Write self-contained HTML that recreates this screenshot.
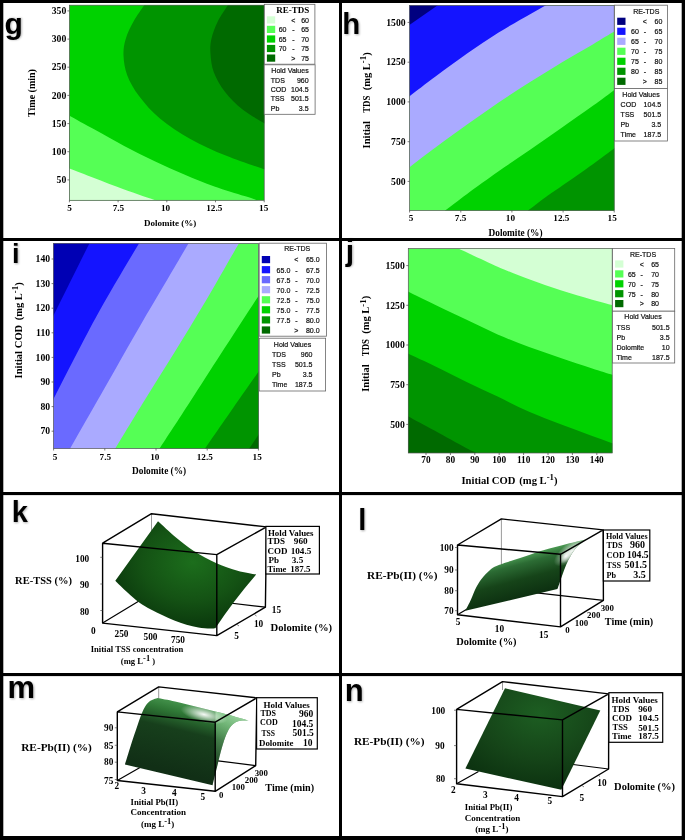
<!DOCTYPE html>
<html><head><meta charset="utf-8"><title>figure</title>
<style>
html,body{margin:0;padding:0;background:#fff;}
body{width:685px;height:840px;overflow:hidden;font-family:"Liberation Sans",sans-serif;}
svg{display:block;will-change:transform;}
</style></head><body>
<svg width="685" height="840" viewBox="0 0 685 840">
<defs>
<filter id="sh" x="-20%" y="-20%" width="150%" height="150%"><feGaussianBlur stdDeviation="0.9"/></filter>

<clipPath id="cg"><rect x="69.4" y="5.2" width="194.8" height="195.1"/></clipPath>
<clipPath id="ch"><rect x="409.6" y="5.4" width="204.6" height="205.1"/></clipPath>
<clipPath id="ci"><rect x="53.6" y="243.4" width="204.8" height="205.1"/></clipPath>
<clipPath id="cj"><rect x="408.3" y="248.6" width="203.9" height="204.4"/></clipPath>
<radialGradient id="gk" cx="0.55" cy="0.38" r="0.6"><stop offset="0" stop-color="#1c6e1c"/><stop offset="0.6" stop-color="#145214"/><stop offset="1" stop-color="#0b3a0d"/></radialGradient>
<linearGradient id="gl" gradientUnits="userSpaceOnUse" x1="522" y1="555" x2="534" y2="600"><stop offset="0" stop-color="#4c9c54"/><stop offset="0.18" stop-color="#2c6c34"/><stop offset="0.5" stop-color="#164419"/><stop offset="1" stop-color="#0a2a0e"/></linearGradient>
<linearGradient id="gl2" x1="0" y1="1" x2="1" y2="0"><stop offset="0" stop-color="#1a4d20"/><stop offset="0.6" stop-color="#6fbf78"/><stop offset="1" stop-color="#d8f5da"/></linearGradient>
<linearGradient id="gm" gradientUnits="userSpaceOnUse" x1="200" y1="704" x2="183" y2="774"><stop offset="0" stop-color="#4a9a52"/><stop offset="0.18" stop-color="#2f7836"/><stop offset="0.42" stop-color="#173f1c"/><stop offset="1" stop-color="#112f16"/></linearGradient>
<radialGradient id="gmh" cx="0.5" cy="0.5" r="0.5"><stop offset="0" stop-color="#ffffff" stop-opacity="0.95"/><stop offset="1" stop-color="#ffffff" stop-opacity="0"/></radialGradient>
<linearGradient id="gmr" gradientUnits="userSpaceOnUse" x1="214" y1="772" x2="244" y2="716"><stop offset="0" stop-color="#7fcf86" stop-opacity="0"/><stop offset="0.5" stop-color="#7fcf86" stop-opacity="0.45"/><stop offset="1" stop-color="#b4e6b8" stop-opacity="0.8"/></linearGradient>
<radialGradient id="gn" cx="0.55" cy="0.25" r="0.75"><stop offset="0" stop-color="#1d5e22"/><stop offset="0.6" stop-color="#154418"/><stop offset="1" stop-color="#0c3210"/></radialGradient>
</defs>
<rect width="685" height="840" fill="#fff"/>

<rect x="69.4" y="5.2" width="194.8" height="195.1" fill="#00d200"/>
<path d="M145.8,3.0 C143.8,6.0 137.1,15.0 133.8,21.1 C130.4,27.1 127.4,33.3 125.7,39.1 C123.9,44.9 123.3,49.6 123.5,55.6 C123.8,61.7 124.6,68.4 127.2,75.2 C129.8,82.0 133.7,89.0 139.2,96.2 C144.7,103.5 151.7,111.7 160.2,118.8 C168.8,125.9 179.3,132.8 190.3,138.9 C201.3,145.1 213.4,150.5 226.4,155.8 C239.4,161.1 261.5,168.3 268.5,170.8 L269.2,0.2 Z" fill="#009400" clip-path="url(#cg)"/>
<path d="M229.4,3.0 C227.5,6.0 221.0,15.0 218.0,21.1 C215.0,27.1 212.6,33.6 211.4,39.1 C210.1,44.6 210.1,48.6 210.5,54.1 C210.9,59.6 211.4,65.9 213.8,72.2 C216.2,78.4 220.0,85.5 224.9,91.7 C229.8,98.0 235.7,104.1 242.9,109.8 C250.2,115.4 264.3,123.1 268.5,125.7 L269.2,0.2 Z" fill="#006a00" clip-path="url(#cg)"/>
<path d="M67.0,114.3 C71.5,116.8 84.6,124.1 94.1,129.3 C103.6,134.6 114.1,140.6 124.2,145.9 C134.2,151.1 144.2,156.1 154.2,160.9 C164.3,165.7 174.3,170.2 184.3,174.4 C194.3,178.7 204.4,182.9 214.4,186.5 C224.4,190.1 236.9,193.7 244.5,196.1 C252.0,198.5 257.0,200.1 259.5,200.9 L64.4,205.3 Z" fill="#55ff55" clip-path="url(#cg)"/>
<path d="M67.0,167.5 C71.5,169.3 84.6,174.4 94.1,178.0 C103.6,181.7 113.6,185.7 124.2,189.5 C134.7,193.3 151.7,199.0 157.2,200.9 L64.4,205.3 Z" fill="#d4ffd4" clip-path="url(#cg)"/>
<rect x="409.6" y="5.4" width="204.6" height="205.1" fill="#55ff55"/>
<path d="M407.2,169.0 C411.9,165.5 425.5,155.0 435.5,147.6 C445.5,140.2 456.6,132.1 467.1,124.6 C477.6,117.1 488.1,109.6 498.6,102.5 C509.1,95.4 519.6,88.7 530.1,82.0 C540.7,75.3 551.2,68.7 561.7,62.4 C572.2,56.1 584.0,49.6 593.2,44.2 C602.4,38.7 612.9,32.3 616.9,30.0 L619.2,0.4 L404.6,0.4 Z" fill="#aaaaff" clip-path="url(#ch)"/>
<path d="M407.2,98.1 C411.9,94.5 425.5,84.0 435.5,76.6 C445.5,69.2 456.6,61.0 467.1,53.6 C477.6,46.3 488.1,39.1 498.6,32.5 C509.1,25.9 521.7,19.0 530.1,14.2 C538.6,9.4 545.9,5.3 549.1,3.5 L404.6,0.4 Z" fill="#1414ff" clip-path="url(#ch)"/>
<path d="M407.2,26.5 L440.3,3.5L404.6,0.4 Z" fill="#000080" clip-path="url(#ch)"/>
<path d="M443.4,211.9 C447.4,208.9 457.9,200.7 467.1,193.9 C476.3,187.2 488.1,178.6 498.6,171.2 C509.1,163.9 519.6,157.0 530.1,149.8 C540.7,142.5 551.2,135.1 561.7,127.7 C572.2,120.4 584.0,112.3 593.2,105.6 C602.4,99.0 612.9,90.9 616.9,88.0 L619.2,215.5 Z" fill="#00d200" clip-path="url(#ch)"/>
<path d="M526.4,211.9 C529.6,209.5 540.0,201.4 545.9,197.1 C551.8,192.8 553.8,191.6 561.7,186.1 C569.6,180.5 584.0,170.6 593.2,164.0 C602.4,157.4 612.9,149.3 616.9,146.3 L619.2,215.5 Z" fill="#009400" clip-path="url(#ch)"/>
<rect x="53.6" y="243.4" width="204.8" height="205.1" fill="#aaaaff"/>
<path d="M69.4,449.9 C76.4,437.7 98.9,398.1 111.1,376.8 C123.3,355.4 132.1,339.7 142.6,321.6 C153.1,303.4 166.3,281.3 174.1,268.0 C182.0,254.6 187.0,245.9 189.6,241.5 L48.6,238.4 L48.6,453.5 Z" fill="#6a6aff" clip-path="url(#ci)"/>
<path d="M51.2,403.6 C58.5,389.4 80.5,345.4 95.3,318.4 C110.1,291.4 132.6,254.3 140.1,241.5 L48.6,238.4 Z" fill="#1414ff" clip-path="url(#ci)"/>
<path d="M51.2,320.0 L90.3,241.5L48.6,238.4 Z" fill="#0000b4" clip-path="url(#ci)"/>
<path d="M114.5,449.9 C119.2,442.2 132.7,419.7 142.6,403.6 C152.5,387.4 163.6,370.2 174.1,353.1 C184.7,336.0 195.6,318.0 205.7,301.1 C215.7,284.1 228.6,261.2 234.4,251.2 C240.1,241.3 239.1,243.1 240.1,241.5 L263.4,238.4 L263.4,453.5 Z" fill="#55ff55" clip-path="url(#ci)"/>
<path d="M158.7,449.9 C163.9,441.9 179.5,418.1 189.9,402.0 C200.4,385.9 209.6,371.4 221.4,353.1 C233.3,334.8 254.3,302.4 260.9,292.2 L263.4,453.5 Z" fill="#00d200" clip-path="url(#ci)"/>
<path d="M204.1,449.9 C209.6,441.9 227.8,415.6 237.2,402.0 C246.7,388.4 256.9,373.9 260.9,368.2 L263.4,453.5 Z" fill="#009400" clip-path="url(#ci)"/>
<path d="M248.3,449.9 L260.9,431.3L263.4,453.5 Z" fill="#006a00" clip-path="url(#ci)"/>
<rect x="408.3" y="248.6" width="203.9" height="204.4" fill="#55ff55"/>
<path d="M453.5,246.2 C460.8,249.6 485.0,261.1 497.6,266.7 C510.2,272.2 518.6,275.3 529.1,279.3 C539.7,283.2 550.2,286.9 560.7,290.3 C571.2,293.7 583.0,297.1 592.2,299.8 C601.4,302.4 611.9,305.0 615.9,306.1 L617.2,243.6 Z" fill="#d4ffd4" clip-path="url(#cj)"/>
<path d="M406.2,290.6 C410.9,292.9 424.5,299.7 434.5,304.5 C444.5,309.3 455.6,314.6 466.1,319.6 C476.6,324.6 487.1,329.9 497.6,334.5 C508.1,339.0 518.6,343.1 529.1,347.1 C539.7,351.0 550.2,354.5 560.7,358.1 C571.2,361.7 583.0,365.6 592.2,368.5 C601.4,371.5 611.9,374.6 615.9,375.8 L617.2,458.0 L403.3,458.0 Z" fill="#00d200" clip-path="url(#cj)"/>
<path d="M406.2,352.7 C410.9,355.0 424.5,361.2 434.5,366.0 C444.5,370.8 455.6,376.7 466.1,381.8 C476.6,386.9 487.1,391.6 497.6,396.6 C508.1,401.6 518.6,407.1 529.1,411.7 C539.7,416.3 550.2,420.3 560.7,424.3 C571.2,428.4 583.0,432.6 592.2,436.0 C601.4,439.4 611.9,443.1 615.9,444.5 L617.2,458.0 L403.3,458.0 Z" fill="#009400" clip-path="url(#cj)"/>
<path d="M406.2,415.2 C410.9,417.8 424.5,425.2 434.5,430.6 C444.5,436.1 458.7,444.1 466.1,448.0 C473.4,451.8 476.6,452.7 478.7,453.7 L403.3,458.0 Z" fill="#006a00" clip-path="url(#cj)"/>
<rect x="69.4" y="5.2" width="194.8" height="195.1" fill="none" stroke="#555" stroke-width="0.7"/>
<rect x="409.6" y="5.4" width="204.6" height="205.1" fill="none" stroke="#555" stroke-width="0.7"/>
<rect x="53.6" y="243.4" width="204.8" height="205.1" fill="none" stroke="#555" stroke-width="0.7"/>
<rect x="408.3" y="248.6" width="203.9" height="204.4" fill="none" stroke="#555" stroke-width="0.7"/>
<line x1="67.4" y1="10.9" x2="69.4" y2="10.9" stroke="#444" stroke-width="0.7"/>
<text x="66.3" y="14.101" font-size="9.7" text-anchor="end" font-family="Liberation Serif, serif" font-weight="bold" >350</text>
<line x1="67.4" y1="39.1" x2="69.4" y2="39.1" stroke="#444" stroke-width="0.7"/>
<text x="66.3" y="42.301" font-size="9.7" text-anchor="end" font-family="Liberation Serif, serif" font-weight="bold" >300</text>
<line x1="67.4" y1="67.2" x2="69.4" y2="67.2" stroke="#444" stroke-width="0.7"/>
<text x="66.3" y="70.401" font-size="9.7" text-anchor="end" font-family="Liberation Serif, serif" font-weight="bold" >250</text>
<line x1="67.4" y1="95.4" x2="69.4" y2="95.4" stroke="#444" stroke-width="0.7"/>
<text x="66.3" y="98.601" font-size="9.7" text-anchor="end" font-family="Liberation Serif, serif" font-weight="bold" >200</text>
<line x1="67.4" y1="123.6" x2="69.4" y2="123.6" stroke="#444" stroke-width="0.7"/>
<text x="66.3" y="126.80099999999999" font-size="9.7" text-anchor="end" font-family="Liberation Serif, serif" font-weight="bold" >150</text>
<line x1="67.4" y1="151.7" x2="69.4" y2="151.7" stroke="#444" stroke-width="0.7"/>
<text x="66.3" y="154.90099999999998" font-size="9.7" text-anchor="end" font-family="Liberation Serif, serif" font-weight="bold" >100</text>
<line x1="67.4" y1="179.9" x2="69.4" y2="179.9" stroke="#444" stroke-width="0.7"/>
<text x="66.3" y="183.101" font-size="9.7" text-anchor="end" font-family="Liberation Serif, serif" font-weight="bold" >50</text>
<line x1="69.4" y1="200.3" x2="69.4" y2="202.3" stroke="#444" stroke-width="0.7"/>
<text x="69.5" y="211.20000000000002" font-size="9.2" text-anchor="middle" font-family="Liberation Serif, serif" font-weight="bold" >5</text>
<line x1="118.1" y1="200.3" x2="118.1" y2="202.3" stroke="#444" stroke-width="0.7"/>
<text x="118.4" y="211.20000000000002" font-size="9.2" text-anchor="middle" font-family="Liberation Serif, serif" font-weight="bold" >7.5</text>
<line x1="166.8" y1="200.3" x2="166.8" y2="202.3" stroke="#444" stroke-width="0.7"/>
<text x="165.6" y="211.20000000000002" font-size="9.2" text-anchor="middle" font-family="Liberation Serif, serif" font-weight="bold" >10</text>
<line x1="215.5" y1="200.3" x2="215.5" y2="202.3" stroke="#444" stroke-width="0.7"/>
<text x="214.3" y="211.20000000000002" font-size="9.2" text-anchor="middle" font-family="Liberation Serif, serif" font-weight="bold" >12.5</text>
<line x1="264.2" y1="200.3" x2="264.2" y2="202.3" stroke="#444" stroke-width="0.7"/>
<text x="263.7" y="211.20000000000002" font-size="9.2" text-anchor="middle" font-family="Liberation Serif, serif" font-weight="bold" >15</text>
<text x="170.1" y="225.5" font-size="9.0" text-anchor="middle" font-family="Liberation Serif, serif" font-weight="bold" >Dolomite (%)</text>
<text transform="translate(35,93) rotate(-90)" font-size="10" text-anchor="middle" font-family="Liberation Serif, serif" font-weight="bold">Time (min)</text>
<line x1="407.6" y1="22.4" x2="409.6" y2="22.4" stroke="#444" stroke-width="0.7"/>
<text x="405.6" y="25.601" font-size="9.7" text-anchor="end" font-family="Liberation Serif, serif" font-weight="bold" >1500</text>
<line x1="407.6" y1="62.2" x2="409.6" y2="62.2" stroke="#444" stroke-width="0.7"/>
<text x="405.6" y="65.401" font-size="9.7" text-anchor="end" font-family="Liberation Serif, serif" font-weight="bold" >1250</text>
<line x1="407.6" y1="101.9" x2="409.6" y2="101.9" stroke="#444" stroke-width="0.7"/>
<text x="405.6" y="105.101" font-size="9.7" text-anchor="end" font-family="Liberation Serif, serif" font-weight="bold" >1000</text>
<line x1="407.6" y1="141.7" x2="409.6" y2="141.7" stroke="#444" stroke-width="0.7"/>
<text x="405.6" y="144.90099999999998" font-size="9.7" text-anchor="end" font-family="Liberation Serif, serif" font-weight="bold" >750</text>
<line x1="407.6" y1="181.4" x2="409.6" y2="181.4" stroke="#444" stroke-width="0.7"/>
<text x="405.6" y="184.601" font-size="9.7" text-anchor="end" font-family="Liberation Serif, serif" font-weight="bold" >500</text>
<line x1="409.6" y1="210.5" x2="409.6" y2="212.5" stroke="#444" stroke-width="0.7"/>
<text x="411" y="221.2" font-size="9.2" text-anchor="middle" font-family="Liberation Serif, serif" font-weight="bold" >5</text>
<line x1="460.8" y1="210.5" x2="460.8" y2="212.5" stroke="#444" stroke-width="0.7"/>
<text x="460.6" y="221.2" font-size="9.2" text-anchor="middle" font-family="Liberation Serif, serif" font-weight="bold" >7.5</text>
<line x1="511.9" y1="210.5" x2="511.9" y2="212.5" stroke="#444" stroke-width="0.7"/>
<text x="510.4" y="221.2" font-size="9.2" text-anchor="middle" font-family="Liberation Serif, serif" font-weight="bold" >10</text>
<line x1="563.1" y1="210.5" x2="563.1" y2="212.5" stroke="#444" stroke-width="0.7"/>
<text x="561.4" y="221.2" font-size="9.2" text-anchor="middle" font-family="Liberation Serif, serif" font-weight="bold" >12.5</text>
<line x1="614.2" y1="210.5" x2="614.2" y2="212.5" stroke="#444" stroke-width="0.7"/>
<text x="612.2" y="221.2" font-size="9.2" text-anchor="middle" font-family="Liberation Serif, serif" font-weight="bold" >15</text>
<text x="515.5" y="235.8" font-size="9.3" text-anchor="middle" font-family="Liberation Serif, serif" font-weight="bold" >Dolomite (%)</text>
<text transform="translate(369.8,148.4) rotate(-90)" font-size="10.5" text-anchor="start" font-family="Liberation Serif, serif" font-weight="bold">Initial</text>
<text transform="translate(369.8,112.8) rotate(-90)" font-size="10.5" text-anchor="start" textLength="17.2" lengthAdjust="spacingAndGlyphs" font-family="Liberation Serif, serif" font-weight="bold">TDS</text>
<text transform="translate(369.8,90.3) rotate(-90)" font-size="10.5" text-anchor="start" font-family="Liberation Serif, serif" font-weight="bold">(mg L<tspan dy="-3.8" font-size="8.8">-1</tspan><tspan dy="3.8">)</tspan></text>
<line x1="51.6" y1="259.0" x2="53.6" y2="259.0" stroke="#444" stroke-width="0.7"/>
<text x="50.1" y="262.201" font-size="9.7" text-anchor="end" font-family="Liberation Serif, serif" font-weight="bold" >140</text>
<line x1="51.6" y1="283.6" x2="53.6" y2="283.6" stroke="#444" stroke-width="0.7"/>
<text x="50.1" y="286.80100000000004" font-size="9.7" text-anchor="end" font-family="Liberation Serif, serif" font-weight="bold" >130</text>
<line x1="51.6" y1="308.2" x2="53.6" y2="308.2" stroke="#444" stroke-width="0.7"/>
<text x="50.1" y="311.401" font-size="9.7" text-anchor="end" font-family="Liberation Serif, serif" font-weight="bold" >120</text>
<line x1="51.6" y1="332.8" x2="53.6" y2="332.8" stroke="#444" stroke-width="0.7"/>
<text x="50.1" y="336.00100000000003" font-size="9.7" text-anchor="end" font-family="Liberation Serif, serif" font-weight="bold" >110</text>
<line x1="51.6" y1="357.4" x2="53.6" y2="357.4" stroke="#444" stroke-width="0.7"/>
<text x="50.1" y="360.601" font-size="9.7" text-anchor="end" font-family="Liberation Serif, serif" font-weight="bold" >100</text>
<line x1="51.6" y1="382.0" x2="53.6" y2="382.0" stroke="#444" stroke-width="0.7"/>
<text x="50.1" y="385.201" font-size="9.7" text-anchor="end" font-family="Liberation Serif, serif" font-weight="bold" >90</text>
<line x1="51.6" y1="406.6" x2="53.6" y2="406.6" stroke="#444" stroke-width="0.7"/>
<text x="50.1" y="409.80100000000004" font-size="9.7" text-anchor="end" font-family="Liberation Serif, serif" font-weight="bold" >80</text>
<line x1="51.6" y1="431.2" x2="53.6" y2="431.2" stroke="#444" stroke-width="0.7"/>
<text x="50.1" y="434.401" font-size="9.7" text-anchor="end" font-family="Liberation Serif, serif" font-weight="bold" >70</text>
<line x1="53.6" y1="448.5" x2="53.6" y2="450.5" stroke="#444" stroke-width="0.7"/>
<text x="55" y="459.6" font-size="9.2" text-anchor="middle" font-family="Liberation Serif, serif" font-weight="bold" >5</text>
<line x1="104.8" y1="448.5" x2="104.8" y2="450.5" stroke="#444" stroke-width="0.7"/>
<text x="105.3" y="459.6" font-size="9.2" text-anchor="middle" font-family="Liberation Serif, serif" font-weight="bold" >7.5</text>
<line x1="156.0" y1="448.5" x2="156.0" y2="450.5" stroke="#444" stroke-width="0.7"/>
<text x="154.8" y="459.6" font-size="9.2" text-anchor="middle" font-family="Liberation Serif, serif" font-weight="bold" >10</text>
<line x1="207.2" y1="448.5" x2="207.2" y2="450.5" stroke="#444" stroke-width="0.7"/>
<text x="204.8" y="459.6" font-size="9.2" text-anchor="middle" font-family="Liberation Serif, serif" font-weight="bold" >12.5</text>
<line x1="258.4" y1="448.5" x2="258.4" y2="450.5" stroke="#444" stroke-width="0.7"/>
<text x="257.2" y="459.6" font-size="9.2" text-anchor="middle" font-family="Liberation Serif, serif" font-weight="bold" >15</text>
<text x="159.1" y="474.4" font-size="9.3" text-anchor="middle" font-family="Liberation Serif, serif" font-weight="bold" >Dolomite (%)</text>
<text transform="translate(22,378.4) rotate(-90)" font-size="10.5" text-anchor="start" font-family="Liberation Serif, serif" font-weight="bold">Initial</text>
<text transform="translate(22,348.2) rotate(-90)" font-size="10.5" text-anchor="start" font-family="Liberation Serif, serif" font-weight="bold">COD</text>
<text transform="translate(22,320.3) rotate(-90)" font-size="10.5" text-anchor="start" font-family="Liberation Serif, serif" font-weight="bold">(mg L<tspan dy="-3.8" font-size="8.8">-1</tspan><tspan dy="3.8">)</tspan></text>
<line x1="406.3" y1="265.6" x2="408.3" y2="265.6" stroke="#444" stroke-width="0.7"/>
<text x="404.8" y="268.80100000000004" font-size="9.7" text-anchor="end" font-family="Liberation Serif, serif" font-weight="bold" >1500</text>
<line x1="406.3" y1="305.3" x2="408.3" y2="305.3" stroke="#444" stroke-width="0.7"/>
<text x="404.8" y="308.50100000000003" font-size="9.7" text-anchor="end" font-family="Liberation Serif, serif" font-weight="bold" >1250</text>
<line x1="406.3" y1="345.0" x2="408.3" y2="345.0" stroke="#444" stroke-width="0.7"/>
<text x="404.8" y="348.201" font-size="9.7" text-anchor="end" font-family="Liberation Serif, serif" font-weight="bold" >1000</text>
<line x1="406.3" y1="384.7" x2="408.3" y2="384.7" stroke="#444" stroke-width="0.7"/>
<text x="404.8" y="387.901" font-size="9.7" text-anchor="end" font-family="Liberation Serif, serif" font-weight="bold" >750</text>
<line x1="406.3" y1="424.4" x2="408.3" y2="424.4" stroke="#444" stroke-width="0.7"/>
<text x="404.8" y="427.601" font-size="9.7" text-anchor="end" font-family="Liberation Serif, serif" font-weight="bold" >500</text>
<line x1="426.0" y1="453.0" x2="426.0" y2="455.0" stroke="#444" stroke-width="0.7"/>
<text x="426.0" y="463.0" font-size="9.3" text-anchor="middle" font-family="Liberation Serif, serif" font-weight="bold" >70</text>
<line x1="450.4" y1="453.0" x2="450.4" y2="455.0" stroke="#444" stroke-width="0.7"/>
<text x="450.4" y="463.0" font-size="9.3" text-anchor="middle" font-family="Liberation Serif, serif" font-weight="bold" >80</text>
<line x1="474.8" y1="453.0" x2="474.8" y2="455.0" stroke="#444" stroke-width="0.7"/>
<text x="474.8" y="463.0" font-size="9.3" text-anchor="middle" font-family="Liberation Serif, serif" font-weight="bold" >90</text>
<line x1="499.2" y1="453.0" x2="499.2" y2="455.0" stroke="#444" stroke-width="0.7"/>
<text x="499.2" y="463.0" font-size="9.3" text-anchor="middle" font-family="Liberation Serif, serif" font-weight="bold" >100</text>
<line x1="523.6" y1="453.0" x2="523.6" y2="455.0" stroke="#444" stroke-width="0.7"/>
<text x="523.6" y="463.0" font-size="9.3" text-anchor="middle" font-family="Liberation Serif, serif" font-weight="bold" >110</text>
<line x1="548.0" y1="453.0" x2="548.0" y2="455.0" stroke="#444" stroke-width="0.7"/>
<text x="548.0" y="463.0" font-size="9.3" text-anchor="middle" font-family="Liberation Serif, serif" font-weight="bold" >120</text>
<line x1="572.4" y1="453.0" x2="572.4" y2="455.0" stroke="#444" stroke-width="0.7"/>
<text x="572.4" y="463.0" font-size="9.3" text-anchor="middle" font-family="Liberation Serif, serif" font-weight="bold" >130</text>
<line x1="596.8" y1="453.0" x2="596.8" y2="455.0" stroke="#444" stroke-width="0.7"/>
<text x="596.8" y="463.0" font-size="9.3" text-anchor="middle" font-family="Liberation Serif, serif" font-weight="bold" >140</text>
<text x="461.5" y="483.5" font-size="10.6" text-anchor="start" font-family="Liberation Serif, serif" font-weight="bold">Initial COD</text>
<text x="519.3" y="483.5" font-size="10.6" text-anchor="start" font-family="Liberation Serif, serif" font-weight="bold">(mg L<tspan dy="-3.8" font-size="8.8">-1</tspan><tspan dy="3.8">)</tspan></text>
<text transform="translate(369.3,391.8) rotate(-90)" font-size="10.5" text-anchor="start" font-family="Liberation Serif, serif" font-weight="bold">Initial</text>
<text transform="translate(369.3,356.2) rotate(-90)" font-size="10.5" text-anchor="start" textLength="17.2" lengthAdjust="spacingAndGlyphs" font-family="Liberation Serif, serif" font-weight="bold">TDS</text>
<text transform="translate(369.3,333.8) rotate(-90)" font-size="10.5" text-anchor="start" font-family="Liberation Serif, serif" font-weight="bold">(mg L<tspan dy="-3.8" font-size="8.8">-1</tspan><tspan dy="3.8">)</tspan></text>
<rect x="264.3" y="4.3" width="50.6" height="59.9" fill="#fff" stroke="#666" stroke-width="0.8"/>
<text x="292.8" y="13.100000000000001" font-size="9" text-anchor="middle" font-family="Liberation Serif, serif" font-weight="bold" >RE-TDS</text>
<rect x="266.90000000000003" y="16.3" width="8.3" height="7.2" fill="#d4ffd4"/>
<text transform="translate(293.3,22.779999999999998) scale(0.88,1)" font-size="8" text-anchor="middle" font-family="Liberation Sans, sans-serif" fill="#111" stroke="#111" stroke-width="0.22" >&lt;</text>
<text transform="translate(309,22.779999999999998) scale(0.88,1)" font-size="8" text-anchor="end" font-family="Liberation Sans, sans-serif" fill="#111" stroke="#111" stroke-width="0.22" >60</text>
<rect x="266.90000000000003" y="25.8" width="8.3" height="7.2" fill="#55ff55"/>
<text transform="translate(286.5,32.33) scale(0.88,1)" font-size="8" text-anchor="end" font-family="Liberation Sans, sans-serif" fill="#111" stroke="#111" stroke-width="0.22" >60</text>
<text transform="translate(293.3,32.33) scale(0.88,1)" font-size="8" text-anchor="middle" font-family="Liberation Sans, sans-serif" fill="#111" stroke="#111" stroke-width="0.22" >-</text>
<text transform="translate(309,32.33) scale(0.88,1)" font-size="8" text-anchor="end" font-family="Liberation Sans, sans-serif" fill="#111" stroke="#111" stroke-width="0.22" >65</text>
<rect x="266.90000000000003" y="35.4" width="8.3" height="7.2" fill="#00d200"/>
<text transform="translate(286.5,41.88) scale(0.88,1)" font-size="8" text-anchor="end" font-family="Liberation Sans, sans-serif" fill="#111" stroke="#111" stroke-width="0.22" >65</text>
<text transform="translate(293.3,41.88) scale(0.88,1)" font-size="8" text-anchor="middle" font-family="Liberation Sans, sans-serif" fill="#111" stroke="#111" stroke-width="0.22" >-</text>
<text transform="translate(309,41.88) scale(0.88,1)" font-size="8" text-anchor="end" font-family="Liberation Sans, sans-serif" fill="#111" stroke="#111" stroke-width="0.22" >70</text>
<rect x="266.90000000000003" y="44.9" width="8.3" height="7.2" fill="#009400"/>
<text transform="translate(286.5,51.43) scale(0.88,1)" font-size="8" text-anchor="end" font-family="Liberation Sans, sans-serif" fill="#111" stroke="#111" stroke-width="0.22" >70</text>
<text transform="translate(293.3,51.43) scale(0.88,1)" font-size="8" text-anchor="middle" font-family="Liberation Sans, sans-serif" fill="#111" stroke="#111" stroke-width="0.22" >-</text>
<text transform="translate(309,51.43) scale(0.88,1)" font-size="8" text-anchor="end" font-family="Liberation Sans, sans-serif" fill="#111" stroke="#111" stroke-width="0.22" >75</text>
<rect x="266.90000000000003" y="54.5" width="8.3" height="7.2" fill="#006a00"/>
<text transform="translate(293.3,60.980000000000004) scale(0.88,1)" font-size="8" text-anchor="middle" font-family="Liberation Sans, sans-serif" fill="#111" stroke="#111" stroke-width="0.22" >&gt;</text>
<text transform="translate(309,60.980000000000004) scale(0.88,1)" font-size="8" text-anchor="end" font-family="Liberation Sans, sans-serif" fill="#111" stroke="#111" stroke-width="0.22" >75</text>
<rect x="264.2" y="64.8" width="50.9" height="49.5" fill="#fff" stroke="#666" stroke-width="0.8"/>
<text transform="translate(290,72.8) scale(0.88,1)" font-size="8" text-anchor="middle" font-family="Liberation Sans, sans-serif" fill="#111" stroke="#111" stroke-width="0.22" >Hold Values</text>
<text transform="translate(270.8,82.5) scale(0.88,1)" font-size="8" text-anchor="start" font-family="Liberation Sans, sans-serif" fill="#111" stroke="#111" stroke-width="0.22" >TDS</text>
<text transform="translate(308.6,82.5) scale(0.88,1)" font-size="8" text-anchor="end" font-family="Liberation Sans, sans-serif" fill="#111" stroke="#111" stroke-width="0.22" >960</text>
<text transform="translate(270.8,91.9) scale(0.88,1)" font-size="8" text-anchor="start" font-family="Liberation Sans, sans-serif" fill="#111" stroke="#111" stroke-width="0.22" >COD</text>
<text transform="translate(308.6,91.9) scale(0.88,1)" font-size="8" text-anchor="end" font-family="Liberation Sans, sans-serif" fill="#111" stroke="#111" stroke-width="0.22" >104.5</text>
<text transform="translate(270.8,101.3) scale(0.88,1)" font-size="8" text-anchor="start" font-family="Liberation Sans, sans-serif" fill="#111" stroke="#111" stroke-width="0.22" >TSS</text>
<text transform="translate(308.6,101.3) scale(0.88,1)" font-size="8" text-anchor="end" font-family="Liberation Sans, sans-serif" fill="#111" stroke="#111" stroke-width="0.22" >501.5</text>
<text transform="translate(270.8,110.7) scale(0.88,1)" font-size="8" text-anchor="start" font-family="Liberation Sans, sans-serif" fill="#111" stroke="#111" stroke-width="0.22" >Pb</text>
<text transform="translate(308.6,110.7) scale(0.88,1)" font-size="8" text-anchor="end" font-family="Liberation Sans, sans-serif" fill="#111" stroke="#111" stroke-width="0.22" >3.5</text>
<rect x="614.6" y="5.2" width="52.8" height="83.2" fill="#fff" stroke="#666" stroke-width="0.8"/>
<text transform="translate(646.3,13.600000000000001) scale(0.88,1)" font-size="8" text-anchor="middle" font-family="Liberation Sans, sans-serif" fill="#111" stroke="#111" stroke-width="0.22" >RE-TDS</text>
<rect x="617.2" y="17.7" width="8.3" height="7.2" fill="#000080"/>
<text transform="translate(644.8,24.18) scale(0.88,1)" font-size="8" text-anchor="middle" font-family="Liberation Sans, sans-serif" fill="#111" stroke="#111" stroke-width="0.22" >&lt;</text>
<text transform="translate(662.3,24.18) scale(0.88,1)" font-size="8" text-anchor="end" font-family="Liberation Sans, sans-serif" fill="#111" stroke="#111" stroke-width="0.22" >60</text>
<rect x="617.2" y="27.7" width="8.3" height="7.2" fill="#1414ff"/>
<text transform="translate(638.8,34.18) scale(0.88,1)" font-size="8" text-anchor="end" font-family="Liberation Sans, sans-serif" fill="#111" stroke="#111" stroke-width="0.22" >60</text>
<text transform="translate(644.8,34.18) scale(0.88,1)" font-size="8" text-anchor="middle" font-family="Liberation Sans, sans-serif" fill="#111" stroke="#111" stroke-width="0.22" >-</text>
<text transform="translate(662.3,34.18) scale(0.88,1)" font-size="8" text-anchor="end" font-family="Liberation Sans, sans-serif" fill="#111" stroke="#111" stroke-width="0.22" >65</text>
<rect x="617.2" y="37.7" width="8.3" height="7.2" fill="#aaaaff"/>
<text transform="translate(638.8,44.18) scale(0.88,1)" font-size="8" text-anchor="end" font-family="Liberation Sans, sans-serif" fill="#111" stroke="#111" stroke-width="0.22" >65</text>
<text transform="translate(644.8,44.18) scale(0.88,1)" font-size="8" text-anchor="middle" font-family="Liberation Sans, sans-serif" fill="#111" stroke="#111" stroke-width="0.22" >-</text>
<text transform="translate(662.3,44.18) scale(0.88,1)" font-size="8" text-anchor="end" font-family="Liberation Sans, sans-serif" fill="#111" stroke="#111" stroke-width="0.22" >70</text>
<rect x="617.2" y="47.7" width="8.3" height="7.2" fill="#55ff55"/>
<text transform="translate(638.8,54.18) scale(0.88,1)" font-size="8" text-anchor="end" font-family="Liberation Sans, sans-serif" fill="#111" stroke="#111" stroke-width="0.22" >70</text>
<text transform="translate(644.8,54.18) scale(0.88,1)" font-size="8" text-anchor="middle" font-family="Liberation Sans, sans-serif" fill="#111" stroke="#111" stroke-width="0.22" >-</text>
<text transform="translate(662.3,54.18) scale(0.88,1)" font-size="8" text-anchor="end" font-family="Liberation Sans, sans-serif" fill="#111" stroke="#111" stroke-width="0.22" >75</text>
<rect x="617.2" y="57.7" width="8.3" height="7.2" fill="#00d200"/>
<text transform="translate(638.8,64.17999999999999) scale(0.88,1)" font-size="8" text-anchor="end" font-family="Liberation Sans, sans-serif" fill="#111" stroke="#111" stroke-width="0.22" >75</text>
<text transform="translate(644.8,64.17999999999999) scale(0.88,1)" font-size="8" text-anchor="middle" font-family="Liberation Sans, sans-serif" fill="#111" stroke="#111" stroke-width="0.22" >-</text>
<text transform="translate(662.3,64.17999999999999) scale(0.88,1)" font-size="8" text-anchor="end" font-family="Liberation Sans, sans-serif" fill="#111" stroke="#111" stroke-width="0.22" >80</text>
<rect x="617.2" y="67.7" width="8.3" height="7.2" fill="#009400"/>
<text transform="translate(638.8,74.17999999999999) scale(0.88,1)" font-size="8" text-anchor="end" font-family="Liberation Sans, sans-serif" fill="#111" stroke="#111" stroke-width="0.22" >80</text>
<text transform="translate(644.8,74.17999999999999) scale(0.88,1)" font-size="8" text-anchor="middle" font-family="Liberation Sans, sans-serif" fill="#111" stroke="#111" stroke-width="0.22" >-</text>
<text transform="translate(662.3,74.17999999999999) scale(0.88,1)" font-size="8" text-anchor="end" font-family="Liberation Sans, sans-serif" fill="#111" stroke="#111" stroke-width="0.22" >85</text>
<rect x="617.2" y="77.7" width="8.3" height="7.2" fill="#006a00"/>
<text transform="translate(644.8,84.17999999999999) scale(0.88,1)" font-size="8" text-anchor="middle" font-family="Liberation Sans, sans-serif" fill="#111" stroke="#111" stroke-width="0.22" >&gt;</text>
<text transform="translate(662.3,84.17999999999999) scale(0.88,1)" font-size="8" text-anchor="end" font-family="Liberation Sans, sans-serif" fill="#111" stroke="#111" stroke-width="0.22" >85</text>
<rect x="614.6" y="88.4" width="52.8" height="52.6" fill="#fff" stroke="#666" stroke-width="0.8"/>
<text transform="translate(641,97.10000000000001) scale(0.88,1)" font-size="8" text-anchor="middle" font-family="Liberation Sans, sans-serif" fill="#111" stroke="#111" stroke-width="0.22" >Hold Values</text>
<text transform="translate(620.6,107.0) scale(0.88,1)" font-size="8" text-anchor="start" font-family="Liberation Sans, sans-serif" fill="#111" stroke="#111" stroke-width="0.22" >COD</text>
<text transform="translate(661.2,107.0) scale(0.88,1)" font-size="8" text-anchor="end" font-family="Liberation Sans, sans-serif" fill="#111" stroke="#111" stroke-width="0.22" >104.5</text>
<text transform="translate(620.6,116.9) scale(0.88,1)" font-size="8" text-anchor="start" font-family="Liberation Sans, sans-serif" fill="#111" stroke="#111" stroke-width="0.22" >TSS</text>
<text transform="translate(661.2,116.9) scale(0.88,1)" font-size="8" text-anchor="end" font-family="Liberation Sans, sans-serif" fill="#111" stroke="#111" stroke-width="0.22" >501.5</text>
<text transform="translate(620.6,126.8) scale(0.88,1)" font-size="8" text-anchor="start" font-family="Liberation Sans, sans-serif" fill="#111" stroke="#111" stroke-width="0.22" >Pb</text>
<text transform="translate(661.2,126.8) scale(0.88,1)" font-size="8" text-anchor="end" font-family="Liberation Sans, sans-serif" fill="#111" stroke="#111" stroke-width="0.22" >3.5</text>
<text transform="translate(620.6,136.7) scale(0.88,1)" font-size="8" text-anchor="start" font-family="Liberation Sans, sans-serif" fill="#111" stroke="#111" stroke-width="0.22" >Time</text>
<text transform="translate(661.2,136.7) scale(0.88,1)" font-size="8" text-anchor="end" font-family="Liberation Sans, sans-serif" fill="#111" stroke="#111" stroke-width="0.22" >187.5</text>
<rect x="259.2" y="243.2" width="67.2" height="93" fill="#fff" stroke="#666" stroke-width="0.8"/>
<text transform="translate(297.2,251.2) scale(0.88,1)" font-size="8" text-anchor="middle" font-family="Liberation Sans, sans-serif" fill="#111" stroke="#111" stroke-width="0.22" >RE-TDS</text>
<rect x="261.8" y="256.0" width="8.3" height="7.2" fill="#0000b4"/>
<text transform="translate(296.3,262.48) scale(0.88,1)" font-size="8" text-anchor="middle" font-family="Liberation Sans, sans-serif" fill="#111" stroke="#111" stroke-width="0.22" >&lt;</text>
<text transform="translate(319.6,262.48) scale(0.88,1)" font-size="8" text-anchor="end" font-family="Liberation Sans, sans-serif" fill="#111" stroke="#111" stroke-width="0.22" >65.0</text>
<rect x="261.8" y="266.1" width="8.3" height="7.2" fill="#1414ff"/>
<text transform="translate(290.3,272.53000000000003) scale(0.88,1)" font-size="8" text-anchor="end" font-family="Liberation Sans, sans-serif" fill="#111" stroke="#111" stroke-width="0.22" >65.0</text>
<text transform="translate(296.3,272.53000000000003) scale(0.88,1)" font-size="8" text-anchor="middle" font-family="Liberation Sans, sans-serif" fill="#111" stroke="#111" stroke-width="0.22" >-</text>
<text transform="translate(319.6,272.53000000000003) scale(0.88,1)" font-size="8" text-anchor="end" font-family="Liberation Sans, sans-serif" fill="#111" stroke="#111" stroke-width="0.22" >67.5</text>
<rect x="261.8" y="276.1" width="8.3" height="7.2" fill="#6a6aff"/>
<text transform="translate(290.3,282.58000000000004) scale(0.88,1)" font-size="8" text-anchor="end" font-family="Liberation Sans, sans-serif" fill="#111" stroke="#111" stroke-width="0.22" >67.5</text>
<text transform="translate(296.3,282.58000000000004) scale(0.88,1)" font-size="8" text-anchor="middle" font-family="Liberation Sans, sans-serif" fill="#111" stroke="#111" stroke-width="0.22" >-</text>
<text transform="translate(319.6,282.58000000000004) scale(0.88,1)" font-size="8" text-anchor="end" font-family="Liberation Sans, sans-serif" fill="#111" stroke="#111" stroke-width="0.22" >70.0</text>
<rect x="261.8" y="286.1" width="8.3" height="7.2" fill="#aaaaff"/>
<text transform="translate(290.3,292.63) scale(0.88,1)" font-size="8" text-anchor="end" font-family="Liberation Sans, sans-serif" fill="#111" stroke="#111" stroke-width="0.22" >70.0</text>
<text transform="translate(296.3,292.63) scale(0.88,1)" font-size="8" text-anchor="middle" font-family="Liberation Sans, sans-serif" fill="#111" stroke="#111" stroke-width="0.22" >-</text>
<text transform="translate(319.6,292.63) scale(0.88,1)" font-size="8" text-anchor="end" font-family="Liberation Sans, sans-serif" fill="#111" stroke="#111" stroke-width="0.22" >72.5</text>
<rect x="261.8" y="296.2" width="8.3" height="7.2" fill="#55ff55"/>
<text transform="translate(290.3,302.68) scale(0.88,1)" font-size="8" text-anchor="end" font-family="Liberation Sans, sans-serif" fill="#111" stroke="#111" stroke-width="0.22" >72.5</text>
<text transform="translate(296.3,302.68) scale(0.88,1)" font-size="8" text-anchor="middle" font-family="Liberation Sans, sans-serif" fill="#111" stroke="#111" stroke-width="0.22" >-</text>
<text transform="translate(319.6,302.68) scale(0.88,1)" font-size="8" text-anchor="end" font-family="Liberation Sans, sans-serif" fill="#111" stroke="#111" stroke-width="0.22" >75.0</text>
<rect x="261.8" y="306.2" width="8.3" height="7.2" fill="#00d200"/>
<text transform="translate(290.3,312.73) scale(0.88,1)" font-size="8" text-anchor="end" font-family="Liberation Sans, sans-serif" fill="#111" stroke="#111" stroke-width="0.22" >75.0</text>
<text transform="translate(296.3,312.73) scale(0.88,1)" font-size="8" text-anchor="middle" font-family="Liberation Sans, sans-serif" fill="#111" stroke="#111" stroke-width="0.22" >-</text>
<text transform="translate(319.6,312.73) scale(0.88,1)" font-size="8" text-anchor="end" font-family="Liberation Sans, sans-serif" fill="#111" stroke="#111" stroke-width="0.22" >77.5</text>
<rect x="261.8" y="316.3" width="8.3" height="7.2" fill="#009400"/>
<text transform="translate(290.3,322.78000000000003) scale(0.88,1)" font-size="8" text-anchor="end" font-family="Liberation Sans, sans-serif" fill="#111" stroke="#111" stroke-width="0.22" >77.5</text>
<text transform="translate(296.3,322.78000000000003) scale(0.88,1)" font-size="8" text-anchor="middle" font-family="Liberation Sans, sans-serif" fill="#111" stroke="#111" stroke-width="0.22" >-</text>
<text transform="translate(319.6,322.78000000000003) scale(0.88,1)" font-size="8" text-anchor="end" font-family="Liberation Sans, sans-serif" fill="#111" stroke="#111" stroke-width="0.22" >80.0</text>
<rect x="261.8" y="326.4" width="8.3" height="7.2" fill="#006a00"/>
<text transform="translate(296.3,332.83000000000004) scale(0.88,1)" font-size="8" text-anchor="middle" font-family="Liberation Sans, sans-serif" fill="#111" stroke="#111" stroke-width="0.22" >&gt;</text>
<text transform="translate(319.6,332.83000000000004) scale(0.88,1)" font-size="8" text-anchor="end" font-family="Liberation Sans, sans-serif" fill="#111" stroke="#111" stroke-width="0.22" >80.0</text>
<rect x="259.2" y="338.2" width="66.4" height="52.8" fill="#fff" stroke="#666" stroke-width="0.8"/>
<text transform="translate(292.5,347.2) scale(0.88,1)" font-size="8" text-anchor="middle" font-family="Liberation Sans, sans-serif" fill="#111" stroke="#111" stroke-width="0.22" >Hold Values</text>
<text transform="translate(272,357.4) scale(0.88,1)" font-size="8" text-anchor="start" font-family="Liberation Sans, sans-serif" fill="#111" stroke="#111" stroke-width="0.22" >TDS</text>
<text transform="translate(312.5,357.4) scale(0.88,1)" font-size="8" text-anchor="end" font-family="Liberation Sans, sans-serif" fill="#111" stroke="#111" stroke-width="0.22" >960</text>
<text transform="translate(272,367.34999999999997) scale(0.88,1)" font-size="8" text-anchor="start" font-family="Liberation Sans, sans-serif" fill="#111" stroke="#111" stroke-width="0.22" >TSS</text>
<text transform="translate(312.5,367.34999999999997) scale(0.88,1)" font-size="8" text-anchor="end" font-family="Liberation Sans, sans-serif" fill="#111" stroke="#111" stroke-width="0.22" >501.5</text>
<text transform="translate(272,377.29999999999995) scale(0.88,1)" font-size="8" text-anchor="start" font-family="Liberation Sans, sans-serif" fill="#111" stroke="#111" stroke-width="0.22" >Pb</text>
<text transform="translate(312.5,377.29999999999995) scale(0.88,1)" font-size="8" text-anchor="end" font-family="Liberation Sans, sans-serif" fill="#111" stroke="#111" stroke-width="0.22" >3.5</text>
<text transform="translate(272,387.25) scale(0.88,1)" font-size="8" text-anchor="start" font-family="Liberation Sans, sans-serif" fill="#111" stroke="#111" stroke-width="0.22" >Time</text>
<text transform="translate(312.5,387.25) scale(0.88,1)" font-size="8" text-anchor="end" font-family="Liberation Sans, sans-serif" fill="#111" stroke="#111" stroke-width="0.22" >187.5</text>
<rect x="612.5" y="248.5" width="62.2" height="62.7" fill="#fff" stroke="#666" stroke-width="0.8"/>
<text transform="translate(643,257.1) scale(0.88,1)" font-size="8" text-anchor="middle" font-family="Liberation Sans, sans-serif" fill="#111" stroke="#111" stroke-width="0.22" >RE-TDS</text>
<rect x="615.1" y="260.4" width="8.3" height="7.2" fill="#d4ffd4"/>
<text transform="translate(641.7,266.88) scale(0.88,1)" font-size="8" text-anchor="middle" font-family="Liberation Sans, sans-serif" fill="#111" stroke="#111" stroke-width="0.22" >&lt;</text>
<text transform="translate(659.0,266.88) scale(0.88,1)" font-size="8" text-anchor="end" font-family="Liberation Sans, sans-serif" fill="#111" stroke="#111" stroke-width="0.22" >65</text>
<rect x="615.1" y="270.3" width="8.3" height="7.2" fill="#55ff55"/>
<text transform="translate(635.7,276.78) scale(0.88,1)" font-size="8" text-anchor="end" font-family="Liberation Sans, sans-serif" fill="#111" stroke="#111" stroke-width="0.22" >65</text>
<text transform="translate(641.7,276.78) scale(0.88,1)" font-size="8" text-anchor="middle" font-family="Liberation Sans, sans-serif" fill="#111" stroke="#111" stroke-width="0.22" >-</text>
<text transform="translate(659.0,276.78) scale(0.88,1)" font-size="8" text-anchor="end" font-family="Liberation Sans, sans-serif" fill="#111" stroke="#111" stroke-width="0.22" >70</text>
<rect x="615.1" y="280.2" width="8.3" height="7.2" fill="#00d200"/>
<text transform="translate(635.7,286.68) scale(0.88,1)" font-size="8" text-anchor="end" font-family="Liberation Sans, sans-serif" fill="#111" stroke="#111" stroke-width="0.22" >70</text>
<text transform="translate(641.7,286.68) scale(0.88,1)" font-size="8" text-anchor="middle" font-family="Liberation Sans, sans-serif" fill="#111" stroke="#111" stroke-width="0.22" >-</text>
<text transform="translate(659.0,286.68) scale(0.88,1)" font-size="8" text-anchor="end" font-family="Liberation Sans, sans-serif" fill="#111" stroke="#111" stroke-width="0.22" >75</text>
<rect x="615.1" y="290.1" width="8.3" height="7.2" fill="#009400"/>
<text transform="translate(635.7,296.58) scale(0.88,1)" font-size="8" text-anchor="end" font-family="Liberation Sans, sans-serif" fill="#111" stroke="#111" stroke-width="0.22" >75</text>
<text transform="translate(641.7,296.58) scale(0.88,1)" font-size="8" text-anchor="middle" font-family="Liberation Sans, sans-serif" fill="#111" stroke="#111" stroke-width="0.22" >-</text>
<text transform="translate(659.0,296.58) scale(0.88,1)" font-size="8" text-anchor="end" font-family="Liberation Sans, sans-serif" fill="#111" stroke="#111" stroke-width="0.22" >80</text>
<rect x="615.1" y="300.0" width="8.3" height="7.2" fill="#006a00"/>
<text transform="translate(641.7,306.48) scale(0.88,1)" font-size="8" text-anchor="middle" font-family="Liberation Sans, sans-serif" fill="#111" stroke="#111" stroke-width="0.22" >&gt;</text>
<text transform="translate(659.0,306.48) scale(0.88,1)" font-size="8" text-anchor="end" font-family="Liberation Sans, sans-serif" fill="#111" stroke="#111" stroke-width="0.22" >80</text>
<rect x="612.5" y="311.2" width="62.2" height="51.8" fill="#fff" stroke="#666" stroke-width="0.8"/>
<text transform="translate(643,319.2) scale(0.88,1)" font-size="8" text-anchor="middle" font-family="Liberation Sans, sans-serif" fill="#111" stroke="#111" stroke-width="0.22" >Hold Values</text>
<text transform="translate(616.5,329.7) scale(0.88,1)" font-size="8" text-anchor="start" font-family="Liberation Sans, sans-serif" fill="#111" stroke="#111" stroke-width="0.22" >TSS</text>
<text transform="translate(669.6,329.7) scale(0.88,1)" font-size="8" text-anchor="end" font-family="Liberation Sans, sans-serif" fill="#111" stroke="#111" stroke-width="0.22" >501.5</text>
<text transform="translate(616.5,339.65) scale(0.88,1)" font-size="8" text-anchor="start" font-family="Liberation Sans, sans-serif" fill="#111" stroke="#111" stroke-width="0.22" >Pb</text>
<text transform="translate(669.6,339.65) scale(0.88,1)" font-size="8" text-anchor="end" font-family="Liberation Sans, sans-serif" fill="#111" stroke="#111" stroke-width="0.22" >3.5</text>
<text transform="translate(616.5,349.59999999999997) scale(0.88,1)" font-size="8" text-anchor="start" font-family="Liberation Sans, sans-serif" fill="#111" stroke="#111" stroke-width="0.22" >Dolomite</text>
<text transform="translate(669.6,349.59999999999997) scale(0.88,1)" font-size="8" text-anchor="end" font-family="Liberation Sans, sans-serif" fill="#111" stroke="#111" stroke-width="0.22" >10</text>
<text transform="translate(616.5,359.55) scale(0.88,1)" font-size="8" text-anchor="start" font-family="Liberation Sans, sans-serif" fill="#111" stroke="#111" stroke-width="0.22" >Time</text>
<text transform="translate(669.6,359.55) scale(0.88,1)" font-size="8" text-anchor="end" font-family="Liberation Sans, sans-serif" fill="#111" stroke="#111" stroke-width="0.22" >187.5</text>
<path d="M151.5,513.7 L151.5,560" stroke="#555" stroke-width="0.6"/>
<path d="M102.6,623.1 L146,596.8 M217.2,601.5 L265.4,607.2" stroke="#000" stroke-width="1.2" fill="none"/>
<path d="M158,521.3 L115.3,580.8 C117.3,582.8 123.5,588.9 127.5,592.5 C131.5,596.1 135.3,599.7 139.2,602.5 C143.1,605.3 147.0,607.4 150.9,609.5 C154.8,611.6 158.7,613.5 162.6,615.3 C166.5,617.1 170.3,618.9 174.3,620.5 C178.3,622.1 182.5,623.6 186.5,624.8 C190.5,625.9 194.5,626.8 198.4,627.4 C202.3,628.0 207.2,628.4 210.0,628.5 C212.8,628.6 214.5,628.2 215.4,628.2  Q233.3,601 256.2,574.5 C253.1,573.9 244.2,572.6 237.6,570.7 C231.0,568.8 223.8,566.5 216.5,563.2 C209.2,559.9 200.5,555.1 193.8,550.9 C187.1,546.7 182.3,542.7 176.3,537.8 C170.3,532.9 161.1,524.0 158.0,521.3  Z" fill="url(#gk)"/>
<path d="M102.6,623.1 L102.6,543.2 L216.8,554.6 L216.8,635.6 Z M102.6,543.2 L151.5,513.7 L266.5,526.9 L216.8,554.6 M266.5,526.9 L265.4,607.2 L216.8,635.6" stroke="#000" stroke-width="1.4" fill="none" stroke-linejoin="round"/>
<line x1="102.8" y1="557.3" x2="100.3" y2="557.3" stroke="#333" stroke-width="0.6"/>
<line x1="102.8" y1="584" x2="100.3" y2="584" stroke="#333" stroke-width="0.6"/>
<line x1="102.8" y1="610.5" x2="100.3" y2="610.5" stroke="#333" stroke-width="0.6"/>
<line x1="237" y1="624.5" x2="239" y2="626.0" stroke="#333" stroke-width="0.6"/>
<line x1="254.5" y1="614.5" x2="256.5" y2="616.0" stroke="#333" stroke-width="0.6"/>
<text x="89.2" y="561.7" font-size="9.3" text-anchor="end" font-family="Liberation Serif, serif" font-weight="bold" >100</text>
<text x="89.2" y="588.4" font-size="9.3" text-anchor="end" font-family="Liberation Serif, serif" font-weight="bold" >90</text>
<text x="89.2" y="614.7" font-size="9.3" text-anchor="end" font-family="Liberation Serif, serif" font-weight="bold" >80</text>
<text x="72" y="584.4" font-size="10.5" text-anchor="end" font-family="Liberation Serif, serif" font-weight="bold" >RE-TSS (%)</text>
<text x="93.4" y="634" font-size="9.3" text-anchor="middle" font-family="Liberation Serif, serif" font-weight="bold" >0</text>
<text x="121.5" y="637" font-size="9.3" text-anchor="middle" font-family="Liberation Serif, serif" font-weight="bold" >250</text>
<text x="150.5" y="640" font-size="9.3" text-anchor="middle" font-family="Liberation Serif, serif" font-weight="bold" >500</text>
<text x="178" y="643" font-size="9.3" text-anchor="middle" font-family="Liberation Serif, serif" font-weight="bold" >750</text>
<text x="137" y="652" font-size="8.6" text-anchor="middle" font-family="Liberation Serif, serif" font-weight="bold" >Initial TSS concentration</text>
<text x="138" y="664" font-size="8.6" text-anchor="middle" font-family="Liberation Serif, serif" font-weight="bold">(mg L<tspan dy="-3" font-size="8.5">-1</tspan><tspan dy="3"> )</tspan></text>
<text x="236.7" y="639" font-size="9.3" text-anchor="middle" font-family="Liberation Serif, serif" font-weight="bold" >5</text>
<text x="258.6" y="627" font-size="9.3" text-anchor="middle" font-family="Liberation Serif, serif" font-weight="bold" >10</text>
<text x="276.4" y="613.3" font-size="9.3" text-anchor="middle" font-family="Liberation Serif, serif" font-weight="bold" >15</text>
<text x="301.3" y="630.8" font-size="10.6" text-anchor="middle" font-family="Liberation Serif, serif" font-weight="bold" >Dolomite (%)</text>
<rect x="265.9" y="526.4" width="53.5" height="47.6" fill="#fff" stroke="#000" stroke-width="1.2"/>
<text x="290.7" y="535.8" font-size="8.9" text-anchor="middle" font-family="Liberation Serif, serif" font-weight="bold" >Hold Values</text>
<text x="267.5" y="544.2" font-size="9" text-anchor="start" font-family="Liberation Serif, serif" font-weight="bold" >TDS</text>
<text x="300.7" y="544.2" font-size="9.2" text-anchor="middle" font-family="Liberation Serif, serif" font-weight="bold" >960</text>
<text x="267.5" y="553.5" font-size="9" text-anchor="start" font-family="Liberation Serif, serif" font-weight="bold" >COD</text>
<text x="301" y="553.5" font-size="9.2" text-anchor="middle" font-family="Liberation Serif, serif" font-weight="bold" >104.5</text>
<text x="268.5" y="562.9" font-size="9" text-anchor="start" font-family="Liberation Serif, serif" font-weight="bold" >Pb</text>
<text x="297.5" y="562.9" font-size="9.2" text-anchor="middle" font-family="Liberation Serif, serif" font-weight="bold" >3.5</text>
<text x="267.5" y="571.7" font-size="8.6" text-anchor="start" font-family="Liberation Serif, serif" font-weight="bold" >Time</text>
<text x="300.3" y="571.7" font-size="9" text-anchor="middle" font-family="Liberation Serif, serif" font-weight="bold" >187.5</text>
<path d="M501.4,518.9 L501.4,566" stroke="#555" stroke-width="0.6"/>
<path d="M457.5,614.8 L468,608.5 M530,592.2 L603.4,600.3" stroke="#000" stroke-width="1.2" fill="none"/>
<path d="M465.4,610.7 C466.3,608.8 469.4,603.0 471.1,599.2 C472.9,595.4 474.3,591.2 475.9,588.0 C477.5,584.8 479.1,582.3 480.7,580.0 C482.3,577.7 483.9,576.0 485.5,574.3 C487.1,572.6 488.7,571.0 490.3,569.7 C491.9,568.4 493.0,567.5 495.1,566.5 C497.2,565.5 501.9,563.9 503.2,563.4 C506.0,562.5 513.4,560.1 520.1,557.9 C526.8,555.7 535.6,552.5 543.4,550.2 C551.2,547.9 559.7,545.7 566.8,543.9 C573.9,542.1 582.8,540.1 586.0,539.4 C584.5,540.7 579.2,544.5 576.7,547.2 C574.2,549.9 572.6,552.5 570.9,555.4 C569.1,558.3 567.6,561.6 566.2,564.7 C564.8,567.8 563.8,571.1 562.7,574.0 C561.6,576.9 560.7,579.7 559.8,582.2 C558.9,584.7 557.8,587.9 557.4,589.0 L465.4,610.7Z" fill="url(#gl)" />
<clipPath id="cl"><path d="M465.4,610.7 C466.3,608.8 469.4,603.0 471.1,599.2 C472.9,595.4 474.3,591.2 475.9,588.0 C477.5,584.8 479.1,582.3 480.7,580.0 C482.3,577.7 483.9,576.0 485.5,574.3 C487.1,572.6 488.7,571.0 490.3,569.7 C491.9,568.4 493.0,567.5 495.1,566.5 C497.2,565.5 501.9,563.9 503.2,563.4 C506.0,562.5 513.4,560.1 520.1,557.9 C526.8,555.7 535.6,552.5 543.4,550.2 C551.2,547.9 559.7,545.7 566.8,543.9 C573.9,542.1 582.8,540.1 586.0,539.4 C584.5,540.7 579.2,544.5 576.7,547.2 C574.2,549.9 572.6,552.5 570.9,555.4 C569.1,558.3 567.6,561.6 566.2,564.7 C564.8,567.8 563.8,571.1 562.7,574.0 C561.6,576.9 560.7,579.7 559.8,582.2 C558.9,584.7 557.8,587.9 557.4,589.0 L465.4,610.7Z"/></clipPath>
<g clip-path="url(#cl)"><ellipse cx="572" cy="551" rx="22" ry="9" fill="url(#gmh)" transform="rotate(-38 572 551)"/><ellipse cx="566" cy="556" rx="9" ry="5" fill="url(#gmh)" transform="rotate(-50 566 556)"/></g>
<path d="M457.5,614.8 L457.5,545.0 L560.5,554.3 L560.5,626.9 Z M457.5,545.0 L501.4,518.9 L603.2,529.9 L560.5,554.3 M603.2,529.9 L603.4,600.3 L560.5,626.9" stroke="#000" stroke-width="1.4" fill="none" stroke-linejoin="round"/>
<line x1="457.5" y1="547.5" x2="455.0" y2="547.5" stroke="#333" stroke-width="0.6"/>
<line x1="457.5" y1="570" x2="455.0" y2="570" stroke="#333" stroke-width="0.6"/>
<line x1="457.5" y1="590.7" x2="455.0" y2="590.7" stroke="#333" stroke-width="0.6"/>
<line x1="457.5" y1="610.7" x2="455.0" y2="610.7" stroke="#333" stroke-width="0.6"/>
<text x="453.6" y="550.7" font-size="9.3" text-anchor="end" font-family="Liberation Serif, serif" font-weight="bold" >100</text>
<text x="453.6" y="573.2" font-size="9.3" text-anchor="end" font-family="Liberation Serif, serif" font-weight="bold" >90</text>
<text x="453.6" y="593.9" font-size="9.3" text-anchor="end" font-family="Liberation Serif, serif" font-weight="bold" >80</text>
<text x="453.6" y="613.9" font-size="9.3" text-anchor="end" font-family="Liberation Serif, serif" font-weight="bold" >70</text>
<text x="402.3" y="578.9" font-size="11.3" text-anchor="middle" font-family="Liberation Serif, serif" font-weight="bold" >RE-Pb(II) (%)</text>
<text x="458" y="625" font-size="9.3" text-anchor="middle" font-family="Liberation Serif, serif" font-weight="bold" >5</text>
<text x="499.5" y="632" font-size="9.3" text-anchor="middle" font-family="Liberation Serif, serif" font-weight="bold" >10</text>
<text x="543.7" y="637.5" font-size="9.3" text-anchor="middle" font-family="Liberation Serif, serif" font-weight="bold" >15</text>
<text x="486.4" y="644.6" font-size="10.4" text-anchor="middle" font-family="Liberation Serif, serif" font-weight="bold" >Dolomite (%)</text>
<text x="567.4" y="633.2" font-size="8.9" text-anchor="middle" font-family="Liberation Serif, serif" font-weight="bold" >0</text>
<text x="581.5" y="626.4" font-size="8.9" text-anchor="middle" font-family="Liberation Serif, serif" font-weight="bold" >100</text>
<text x="593.7" y="617.6" font-size="8.9" text-anchor="middle" font-family="Liberation Serif, serif" font-weight="bold" >200</text>
<text x="607.3" y="610.6" font-size="8.9" text-anchor="middle" font-family="Liberation Serif, serif" font-weight="bold" >300</text>
<text x="629" y="624.5" font-size="10.1" text-anchor="middle" font-family="Liberation Serif, serif" font-weight="bold" >Time (min)</text>
<rect x="603.4" y="530" width="46.4" height="51" fill="#fff" stroke="#000" stroke-width="1.2"/>
<text x="626.8" y="539.2" font-size="8.1" text-anchor="middle" font-family="Liberation Serif, serif" font-weight="bold" >Hold Values</text>
<text x="606.6" y="548" font-size="8.2" text-anchor="start" font-family="Liberation Serif, serif" font-weight="bold" >TDS</text>
<text x="637.6" y="548" font-size="10" text-anchor="middle" font-family="Liberation Serif, serif" font-weight="bold" >960</text>
<text x="606.6" y="557.6" font-size="8.2" text-anchor="start" font-family="Liberation Serif, serif" font-weight="bold" >COD</text>
<text x="637.8" y="557.6" font-size="9.6" text-anchor="middle" font-family="Liberation Serif, serif" font-weight="bold" >104.5</text>
<text x="606.6" y="568.2" font-size="8.2" text-anchor="start" font-family="Liberation Serif, serif" font-weight="bold" >TSS</text>
<text x="635.8" y="568.2" font-size="10" text-anchor="middle" font-family="Liberation Serif, serif" font-weight="bold" >501.5</text>
<text x="606.6" y="578" font-size="8.2" text-anchor="start" font-family="Liberation Serif, serif" font-weight="bold" >Pb</text>
<text x="639.5" y="578.3" font-size="10" text-anchor="middle" font-family="Liberation Serif, serif" font-weight="bold" >3.5</text>
<path d="M158.7,686.9 L158.7,700" stroke="#555" stroke-width="0.6"/>
<path d="M117.3,780.5 L140,767.5 M218,760.8 L255.7,765.6" stroke="#000" stroke-width="1.2" fill="none"/>
<path d="M124.9,764.4 C125.9,761.3 128.6,752.3 130.7,745.7 C132.8,739.1 135.6,730.7 137.7,724.7 C139.8,718.7 141.6,713.4 143.5,709.5 C145.4,705.6 147.1,703.3 149.4,701.4 C151.8,699.5 156.2,698.5 157.6,697.9 C160.5,698.5 168.3,699.8 175.1,701.4 C181.9,703.0 190.6,705.3 198.4,707.2 C206.2,709.1 214.8,711.2 221.8,713.0 C228.8,714.8 236.0,717.0 240.5,718.2 C245.0,719.5 247.3,720.1 248.7,720.5 C246.9,720.6 241.0,720.3 238.1,721.2 C235.2,722.1 233.0,723.8 231.1,725.9 C229.2,728.0 228.1,730.4 226.5,734.1 C224.9,737.8 223.4,742.7 221.8,748.1 C220.2,753.5 218.6,760.6 217.1,766.8 C215.6,773.0 213.3,782.1 212.6,785.2 L124.9,764.4Z" fill="url(#gm)" />
<clipPath id="cm"><path d="M124.9,764.4 C125.9,761.3 128.6,752.3 130.7,745.7 C132.8,739.1 135.6,730.7 137.7,724.7 C139.8,718.7 141.6,713.4 143.5,709.5 C145.4,705.6 147.1,703.3 149.4,701.4 C151.8,699.5 156.2,698.5 157.6,697.9 C160.5,698.5 168.3,699.8 175.1,701.4 C181.9,703.0 190.6,705.3 198.4,707.2 C206.2,709.1 214.8,711.2 221.8,713.0 C228.8,714.8 236.0,717.0 240.5,718.2 C245.0,719.5 247.3,720.1 248.7,720.5 C246.9,720.6 241.0,720.3 238.1,721.2 C235.2,722.1 233.0,723.8 231.1,725.9 C229.2,728.0 228.1,730.4 226.5,734.1 C224.9,737.8 223.4,742.7 221.8,748.1 C220.2,753.5 218.6,760.6 217.1,766.8 C215.6,773.0 213.3,782.1 212.6,785.2 L124.9,764.4Z"/></clipPath>
<g clip-path="url(#cm)"><rect x="215.5" y="700" width="40" height="90" fill="url(#gmr)"/><ellipse cx="204" cy="714.5" rx="24" ry="8" fill="url(#gmh)" transform="rotate(14 204 714.5)"/></g>
<path d="M117.3,780.5 L117.3,711.9 L215.2,722.2 L215.2,791.3 Z M117.3,711.9 L158.7,686.9 L256.8,697.9 L215.2,722.2 M256.8,697.9 L255.7,765.6 L215.2,791.3" stroke="#000" stroke-width="1.4" fill="none" stroke-linejoin="round"/>
<line x1="117.3" y1="727.8" x2="114.8" y2="727.8" stroke="#333" stroke-width="0.6"/>
<line x1="117.3" y1="745.3" x2="114.8" y2="745.3" stroke="#333" stroke-width="0.6"/>
<line x1="117.3" y1="762.2" x2="114.8" y2="762.2" stroke="#333" stroke-width="0.6"/>
<line x1="117.3" y1="779.5" x2="114.8" y2="779.5" stroke="#333" stroke-width="0.6"/>
<text x="113.3" y="731" font-size="9.3" text-anchor="end" font-family="Liberation Serif, serif" font-weight="bold" >90</text>
<text x="113.3" y="748.5" font-size="9.3" text-anchor="end" font-family="Liberation Serif, serif" font-weight="bold" >85</text>
<text x="113.3" y="765.4" font-size="9.3" text-anchor="end" font-family="Liberation Serif, serif" font-weight="bold" >80</text>
<text x="113.3" y="784" font-size="9.3" text-anchor="end" font-family="Liberation Serif, serif" font-weight="bold" >75</text>
<text x="56.5" y="751" font-size="11.3" text-anchor="middle" font-family="Liberation Serif, serif" font-weight="bold" >RE-Pb(II) (%)</text>
<text x="116.8" y="788.5" font-size="9.3" text-anchor="middle" font-family="Liberation Serif, serif" font-weight="bold" >2</text>
<text x="143.6" y="794.2" font-size="9.3" text-anchor="middle" font-family="Liberation Serif, serif" font-weight="bold" >3</text>
<text x="174.3" y="796.2" font-size="9.3" text-anchor="middle" font-family="Liberation Serif, serif" font-weight="bold" >4</text>
<text x="202.8" y="800.2" font-size="9.3" text-anchor="middle" font-family="Liberation Serif, serif" font-weight="bold" >5</text>
<text x="221.3" y="798" font-size="8.8" text-anchor="middle" font-family="Liberation Serif, serif" font-weight="bold" >0</text>
<text x="238.3" y="790.4" font-size="8.8" text-anchor="middle" font-family="Liberation Serif, serif" font-weight="bold" >100</text>
<text x="251.4" y="782.6" font-size="8.8" text-anchor="middle" font-family="Liberation Serif, serif" font-weight="bold" >200</text>
<text x="261.3" y="775.6" font-size="8.8" text-anchor="middle" font-family="Liberation Serif, serif" font-weight="bold" >300</text>
<text x="289.7" y="791.3" font-size="10.2" text-anchor="middle" font-family="Liberation Serif, serif" font-weight="bold" >Time (min)</text>
<text x="154.3" y="804.6" font-size="8.7" text-anchor="middle" font-family="Liberation Serif, serif" font-weight="bold" >Initial Pb(II)</text>
<text x="158.3" y="815.4" font-size="9" text-anchor="middle" font-family="Liberation Serif, serif" font-weight="bold" >Concentration</text>
<text x="157.7" y="826.5" font-size="9" text-anchor="middle" font-family="Liberation Serif, serif" font-weight="bold">(mg L<tspan dy="-3" font-size="8.5">-1</tspan><tspan dy="3">)</tspan></text>
<rect x="256.6" y="697.7" width="60.7" height="51.3" fill="#fff" stroke="#000" stroke-width="1.2"/>
<text x="286.7" y="708.4" font-size="9" text-anchor="middle" font-family="Liberation Serif, serif" font-weight="bold" >Hold Values</text>
<text x="260.5" y="716.3" font-size="8" text-anchor="start" font-family="Liberation Serif, serif" font-weight="bold" >TDS</text>
<text x="313.3" y="716.5" font-size="9.5" text-anchor="end" font-family="Liberation Serif, serif" font-weight="bold" >960</text>
<text x="260" y="724.8" font-size="8" text-anchor="start" font-family="Liberation Serif, serif" font-weight="bold" >COD</text>
<text x="313.3" y="727" font-size="9.5" text-anchor="end" font-family="Liberation Serif, serif" font-weight="bold" >104.5</text>
<text x="261.5" y="735.6" font-size="7.6" text-anchor="start" font-family="Liberation Serif, serif" font-weight="bold" >TSS</text>
<text x="313.8" y="735.9" font-size="9.5" text-anchor="end" font-family="Liberation Serif, serif" font-weight="bold" >501.5</text>
<text x="259" y="745.6" font-size="8.9" text-anchor="start" font-family="Liberation Serif, serif" font-weight="bold" >Dolomite</text>
<text x="312.5" y="746" font-size="9.5" text-anchor="end" font-family="Liberation Serif, serif" font-weight="bold" >10</text>
<path d="M502.5,681.6 L502.5,690" stroke="#555" stroke-width="0.6"/>
<path d="M456.6,783.7 L478.5,771.5 M573,764.5 L608.6,769" stroke="#000" stroke-width="1.2" fill="none"/>
<path d="M505,688.3 L600.3,710.5 L561.3,789.8 L465.4,768.5 Z" fill="url(#gn)"/>
<path d="M456.6,783.7 L456.6,709.4 L562.5,719.9 L562.5,796.6 Z M456.6,709.4 L502.5,681.6 L608.7,693.9 L562.5,719.9 M608.7,693.9 L608.6,769.0 L562.5,796.6" stroke="#000" stroke-width="1.4" fill="none" stroke-linejoin="round"/>
<line x1="456.5" y1="710.2" x2="454.0" y2="710.2" stroke="#333" stroke-width="0.6"/>
<line x1="456.5" y1="745.6" x2="454.0" y2="745.6" stroke="#333" stroke-width="0.6"/>
<line x1="456.5" y1="778.7" x2="454.0" y2="778.7" stroke="#333" stroke-width="0.6"/>
<line x1="582" y1="785.5" x2="584" y2="787.0" stroke="#333" stroke-width="0.6"/>
<line x1="598" y1="775" x2="600" y2="776.5" stroke="#333" stroke-width="0.6"/>
<text x="445.2" y="714" font-size="9.3" text-anchor="end" font-family="Liberation Serif, serif" font-weight="bold" >100</text>
<text x="444.6" y="749" font-size="9.3" text-anchor="end" font-family="Liberation Serif, serif" font-weight="bold" >90</text>
<text x="445.2" y="781.9" font-size="9.3" text-anchor="end" font-family="Liberation Serif, serif" font-weight="bold" >80</text>
<text x="389.2" y="745" font-size="11.3" text-anchor="middle" font-family="Liberation Serif, serif" font-weight="bold" >RE-Pb(II) (%)</text>
<text x="453.3" y="793.1" font-size="9.3" text-anchor="middle" font-family="Liberation Serif, serif" font-weight="bold" >2</text>
<text x="485.4" y="798" font-size="9.3" text-anchor="middle" font-family="Liberation Serif, serif" font-weight="bold" >3</text>
<text x="516.7" y="800.5" font-size="9.3" text-anchor="middle" font-family="Liberation Serif, serif" font-weight="bold" >4</text>
<text x="549.9" y="803.5" font-size="9.3" text-anchor="middle" font-family="Liberation Serif, serif" font-weight="bold" >5</text>
<text x="581.9" y="800.9" font-size="9.3" text-anchor="middle" font-family="Liberation Serif, serif" font-weight="bold" >5</text>
<text x="602" y="786" font-size="9.3" text-anchor="middle" font-family="Liberation Serif, serif" font-weight="bold" >10</text>
<text x="644.6" y="789.8" font-size="10.5" text-anchor="middle" font-family="Liberation Serif, serif" font-weight="bold" >Dolomite (%)</text>
<text x="488.6" y="810" font-size="8.7" text-anchor="middle" font-family="Liberation Serif, serif" font-weight="bold" >Initial Pb(II)</text>
<text x="492.4" y="820.8" font-size="9" text-anchor="middle" font-family="Liberation Serif, serif" font-weight="bold" >Concentration</text>
<text x="491.8" y="832" font-size="9" text-anchor="middle" font-family="Liberation Serif, serif" font-weight="bold">(mg L<tspan dy="-3" font-size="8.5">-1</tspan><tspan dy="3">)</tspan></text>
<rect x="608.9" y="692.7" width="53.8" height="49.6" fill="#fff" stroke="#000" stroke-width="1.2"/>
<text x="634.7" y="702.6" font-size="9" text-anchor="middle" font-family="Liberation Serif, serif" font-weight="bold" >Hold Values</text>
<text x="612" y="711.7" font-size="9" text-anchor="start" font-family="Liberation Serif, serif" font-weight="bold" >TDS</text>
<text x="638.2" y="711.7" font-size="9.2" text-anchor="start" font-family="Liberation Serif, serif" font-weight="bold" >960</text>
<text x="612" y="721" font-size="9" text-anchor="start" font-family="Liberation Serif, serif" font-weight="bold" >COD</text>
<text x="638.2" y="721.3" font-size="9.2" text-anchor="start" font-family="Liberation Serif, serif" font-weight="bold" >104.5</text>
<text x="612.5" y="730" font-size="8.6" text-anchor="start" font-family="Liberation Serif, serif" font-weight="bold" >TSS</text>
<text x="638.2" y="730.5" font-size="9.2" text-anchor="start" font-family="Liberation Serif, serif" font-weight="bold" >501.5</text>
<text x="612" y="739" font-size="8.8" text-anchor="start" font-family="Liberation Serif, serif" font-weight="bold" >Time</text>
<text x="638.2" y="739.3" font-size="9.2" text-anchor="start" font-family="Liberation Serif, serif" font-weight="bold" >187.5</text>
<rect x="0" y="0" width="685" height="3" fill="#000"/>
<rect x="0" y="0" width="3.3" height="840" fill="#000"/>
<rect x="681.7" y="0" width="3.3" height="840" fill="#000"/>
<rect x="0" y="836" width="685" height="4" fill="#000"/>
<rect x="339" y="0" width="3" height="840" fill="#000"/>
<rect x="0" y="238" width="685" height="3" fill="#000"/>
<rect x="0" y="492" width="685" height="3.1" fill="#000"/>
<rect x="0" y="673" width="685" height="3.1" fill="#000"/>
<text x="5.4" y="34.4" font-size="30" font-family="Liberation Sans, sans-serif" font-weight="bold" fill="#000" opacity="0.32" filter="url(#sh)">g</text>
<text x="4.5" y="33.5" font-size="30" font-family="Liberation Sans, sans-serif" font-weight="bold" fill="#000">g</text>
<text x="343.2" y="35.3" font-size="29.4" font-family="Liberation Sans, sans-serif" font-weight="bold" fill="#000" opacity="0.32" filter="url(#sh)">h</text>
<text x="342.3" y="34.4" font-size="29.4" font-family="Liberation Sans, sans-serif" font-weight="bold" fill="#000">h</text>
<text x="13.0" y="263.59999999999997" font-size="27" font-family="Liberation Sans, sans-serif" font-weight="bold" fill="#000" opacity="0.32" filter="url(#sh)">i</text>
<text x="12.1" y="262.7" font-size="27" font-family="Liberation Sans, sans-serif" font-weight="bold" fill="#000">i</text>
<text x="346.7" y="261.4" font-size="30" font-family="Liberation Sans, sans-serif" font-weight="bold" fill="#000" opacity="0.32" filter="url(#sh)">j</text>
<text x="345.8" y="260.5" font-size="30" font-family="Liberation Sans, sans-serif" font-weight="bold" fill="#000">j</text>
<text x="12.6" y="522.9" font-size="29" font-family="Liberation Sans, sans-serif" font-weight="bold" fill="#000" opacity="0.32" filter="url(#sh)">k</text>
<text x="11.7" y="522" font-size="29" font-family="Liberation Sans, sans-serif" font-weight="bold" fill="#000">k</text>
<text x="359.09999999999997" y="530.8" font-size="29" font-family="Liberation Sans, sans-serif" font-weight="bold" fill="#000" opacity="0.32" filter="url(#sh)">l</text>
<text x="358.2" y="529.9" font-size="29" font-family="Liberation Sans, sans-serif" font-weight="bold" fill="#000">l</text>
<text x="8.5" y="698.6999999999999" font-size="31" font-family="Liberation Sans, sans-serif" font-weight="bold" fill="#000" opacity="0.32" filter="url(#sh)">m</text>
<text x="7.6" y="697.8" font-size="31" font-family="Liberation Sans, sans-serif" font-weight="bold" fill="#000">m</text>
<text x="345.59999999999997" y="701.6999999999999" font-size="31" font-family="Liberation Sans, sans-serif" font-weight="bold" fill="#000" opacity="0.32" filter="url(#sh)">n</text>
<text x="344.7" y="700.8" font-size="31" font-family="Liberation Sans, sans-serif" font-weight="bold" fill="#000">n</text>
</svg></body></html>
